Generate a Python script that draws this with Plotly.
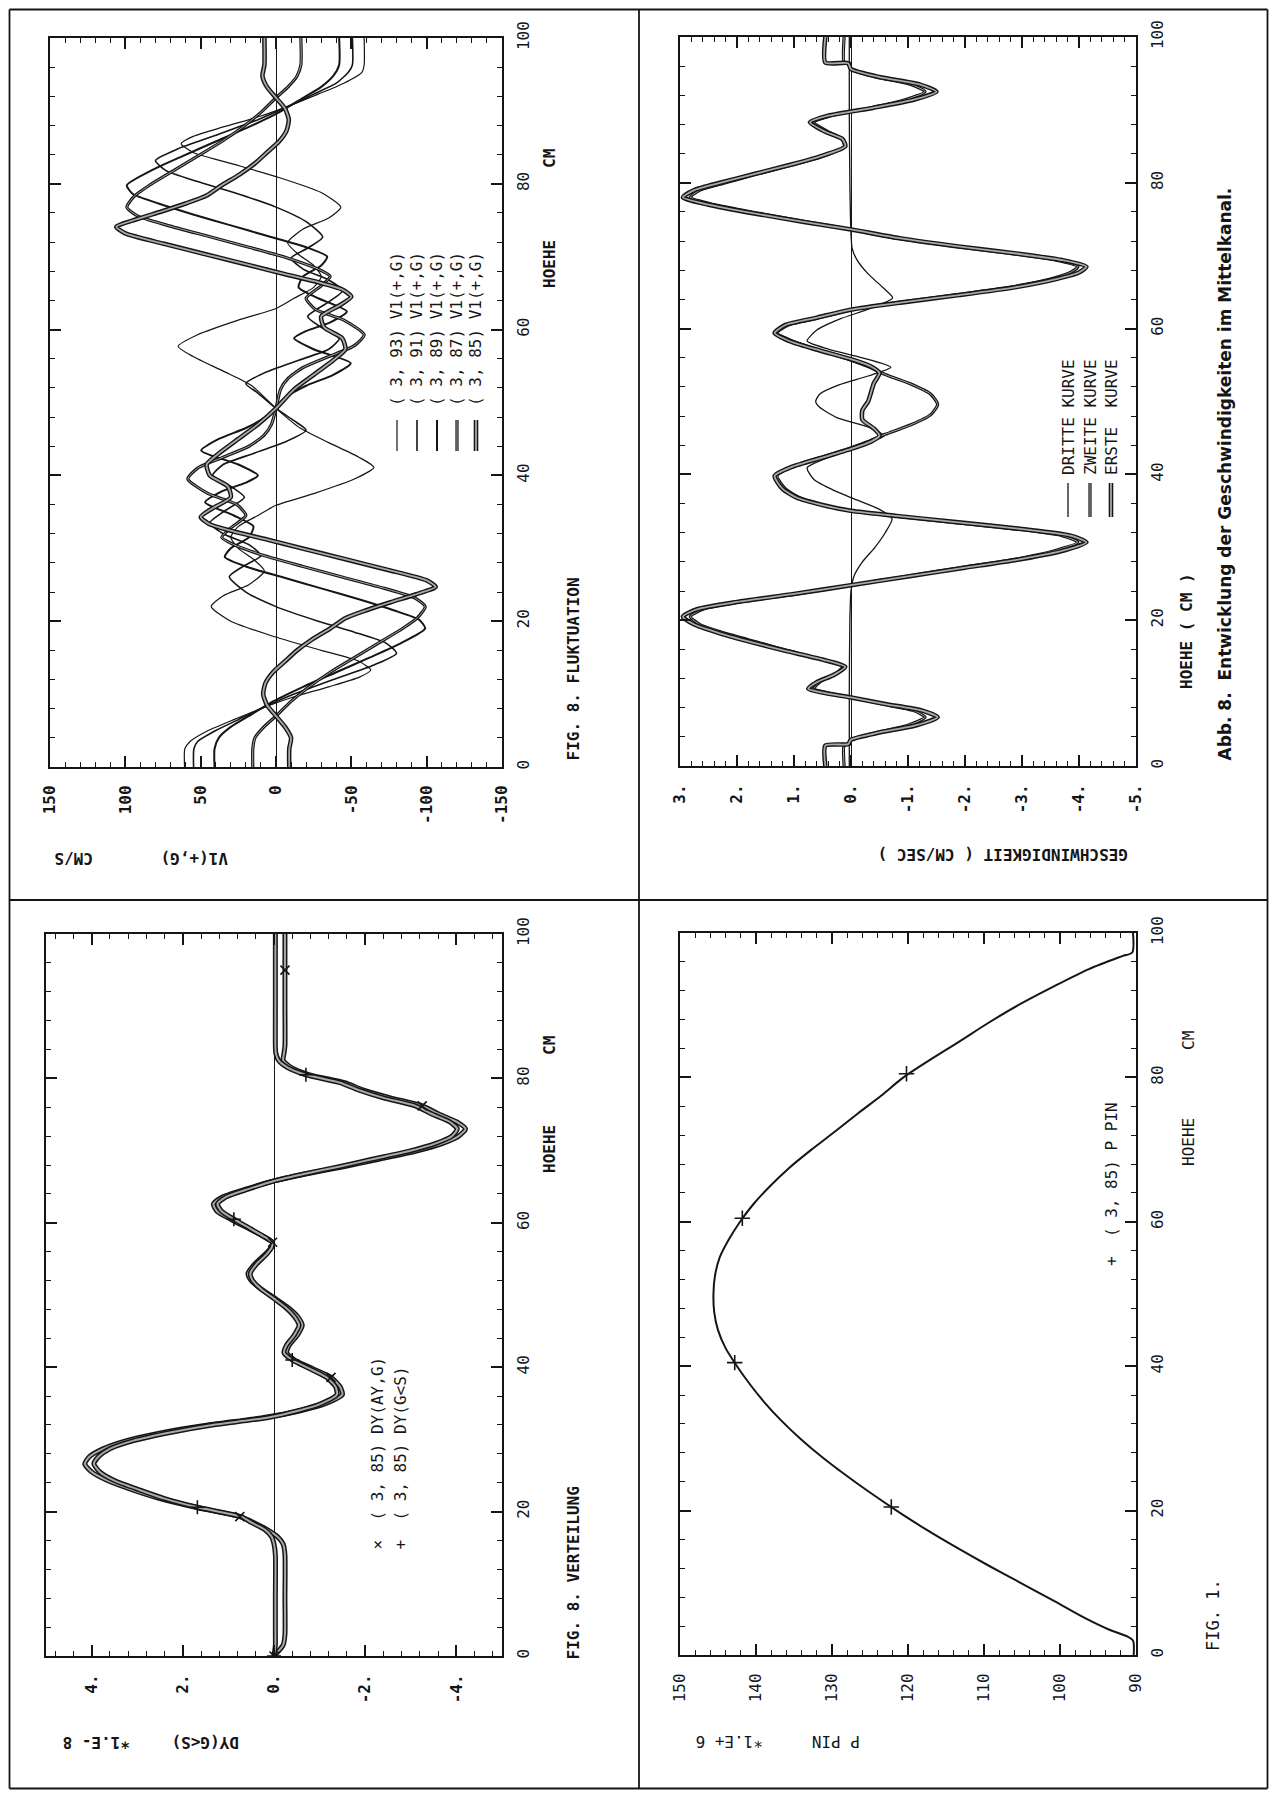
import plotly.graph_objects as go

PAGE_W, PAGE_H = 1277, 1798
OFF = 8                      # default body margin of the html page
W, H = PAGE_W - 2 * OFF, PAGE_H - 2 * OFF
INK = "#151515"
GRAY = "#a8a8a8"
MONO = "DejaVu Sans Mono"
SANS = "DejaVu Sans"

# ======================= DATA =======================
# ---- Panel 1: V1(+,G)  CM/S  vs HOEHE ----
v1_ticks = [150, 100, 50, 0, -50, -100, -150]
v1_ticktext = ["150", "100", "50", "0", "-50", "-100", "-150"]

v1_h_93 = [0, 2.5, 3.5, 5, 6.5, 8, 9.5, 11, 12.3, 13.3, 14.5, 16, 18, 20, 22, 23.5, 25, 26.9, 28.5, 30,
           31.5, 33, 34.5, 35.9, 37.5, 39.5, 41.1, 42.5, 44.5, 46.5, 49.2,
           52.3, 54.3, 56.3, 57.7, 59.3, 61.3, 62.9, 64.3, 65.8, 67.3, 68.8, 70.3, 71.9, 73.8, 75.3,
           76.8, 78.8, 80.8, 82.8, 84.3, 85.5, 86.5, 87.8, 89.3, 90.8, 92.3, 93.8, 95.3, 96.3, 100]
v1_v_93 = [60.7, 60.5, 57, 45, 28, 10, -10, -35, -55, -63, -55, -30, 3, 30, 43, 35, 18, 7.7, 15, 25,
           30, 25, 12, 0, -25, -52, -65, -55, -35, -16, 0,
           16, 35, 55, 65, 52, 25, 0, -12, -25, -30, -25, -15, -7.7, -18, -35,
           -43, -30, -3, 30, 55, 63, 55, 35, 10, -10, -28, -45, -57, -58.5, -58.5]

v1_h_91 = [0, 2.5, 3.5, 5, 6.5, 8, 10, 12, 14, 15.6, 17, 18.5, 20, 22, 24, 26.1, 27.5, 29, 30.5, 32,
           33.5, 35, 37, 38.5, 40, 41.5, 43, 44.5, 46.2, 47.5, 49.2,
           51.3, 52.6, 54.3, 55.8, 57.3, 58.8, 60.3, 61.8, 63.8, 65.3, 66.8, 68.3, 69.8, 71.3, 72.7,
           74.8, 76.8, 78.8, 80.3, 81.8, 83.2, 84.8, 86.8, 88.8, 90.8, 92.3, 93.8, 95.3, 96.3, 100]
v1_v_91 = [54.7, 54.5, 52, 40, 25, 10, -12, -38, -65, -80, -73, -52, -28, 0, 20, 31, 22, 10, 18, 35,
           44, 35, 21, 30, 42, 35, 15, -5, -20, -12, 0,
           12, 20, 5, -15, -35, -42, -30, -21, -35, -44, -35, -18, -10, -22, -31,
           -20, 0, 28, 52, 73, 80, 65, 38, 12, -10, -25, -40, -48, -50.7, -50.7]

v1_h_89 = [0, 2.5, 4, 5.5, 7, 9, 11, 13, 15, 17, 19, 20.2, 21.5, 23, 24.5, 26, 27.5, 28.8, 30, 31.5,
           33, 34.5, 36.3, 37.8, 39, 40, 41.5, 43.4, 45, 46.5, 48, 49.2,
           50.8, 52.3, 53.8, 55.4, 57.3, 58.8, 59.8, 61.0, 62.5, 64.3, 65.8, 67.3, 68.8, 70.0, 71.3,
           72.8, 74.3, 75.8, 77.3, 78.6, 79.8, 81.8, 83.8, 85.8, 87.8, 89.8, 91.8, 93.3, 94.8, 96.3, 100]
v1_v_89 = [40.8, 40.8, 38, 30, 18, 2, -18, -40, -62, -83, -99, -95, -78, -55, -30, -5, 20, 34, 30, 18,
           15, 28, 47, 36, 20, 12, 25, 49.6, 38, 20, 7, 0,
           -7, -20, -38, -49.6, -25, -12, -20, -36, -47, -28, -15, -18, -30, -34, -20,
           5, 30, 55, 78, 95, 99, 83, 62, 40, 18, -2, -18, -30, -38, -41.9, -41.9]

v1_h_87 = [0, 2.5, 4, 5.5, 7, 9, 11, 13, 15, 17, 19, 20.5, 22, 23.2, 24.5, 26, 27.5, 29, 30.5, 31.5,
           32.8, 34.5, 36, 37.5, 39.5, 41, 42.5, 44, 45.5, 47, 49.2,
           51.8, 53.3, 54.8, 56.3, 57.8, 59.3, 61.3, 62.8, 64.3, 66.0, 67.3, 68.3, 69.8, 71.3, 72.8,
           74.3, 75.6, 76.8, 78.3, 79.8, 81.8, 83.8, 85.8, 87.8, 89.8, 91.8, 93.3, 94.8, 96.3, 100]
v1_v_87 = [15.4, 15.4, 14, 8, 0, -10, -22, -36, -52, -68, -84, -94, -99, -92, -72, -45, -18, 8, 28, 36,
           30, 20, 26, 45, 58.5, 52, 35, 18, 8, 3, 0,
           -3, -8, -18, -35, -52, -58.5, -45, -26, -20, -30, -36, -28, -8, 18, 45,
           72, 92, 99, 94, 84, 68, 52, 36, 22, 10, 0, -8, -14, -16.5, -16.5]

v1_h_85 = [0, 2.5, 4, 5.5, 7, 8.5, 10, 11.5, 13, 14.5, 16, 17.5, 19, 20.4, 21.5, 22.6, 23.7, 24.7, 25.6, 27,
           28.5, 30, 31.2, 32.3, 33.3, 34.3, 35.5, 37, 38.5, 40, 41.5, 43, 45, 47, 49.2,
           51.8, 53.8, 55.8, 57.3, 58.8, 60.3, 61.8, 63.3, 64.5, 65.5, 66.5, 67.6, 68.8, 70.3, 71.8,
           73.2, 74.1, 75.1, 76.2, 77.3, 78.4, 79.8, 81.3, 82.8, 84.3, 85.8, 87.3, 88.8, 90.3, 91.8,
           93.3, 94.8, 96.3, 100]
v1_v_85 = [-8.8, -8.8, -10, -6, 0, 6, 8.5, 7, 2, -6, -14, -24, -36, -46, -60, -76, -93, -106, -100, -75,
           -46, -17, 6, 28, 44, 50, 42, 30, 32, 44, 46, 38, 25, 12, 0,
           -12, -25, -38, -46, -44, -32, -30, -42, -50, -44, -28, -6, 17, 46, 75,
           100, 106, 93, 76, 60, 46, 36, 24, 14, 6, -2, -7, -8.5, -6, 0,
           6, 9, 7.7, 7.7]

# ---- Panel 2: DY(G<S) *1.E-8 vs HOEHE ----
dy_ticks = [4, 2, 0, -2, -4]
dy_ticktext = ["4.", "2.", "0.", "-2.", "-4."]
dy_h = [0, 1.5, 3, 8, 14, 15.5, 16.5, 17.5, 18.5, 19.3,
        20.6, 21.8, 23.0, 24.3, 25.5, 26.6, 27.6, 28.7, 29.8, 31.0,
        32.0, 33.0, 34.0, 35.0, 36.2, 37.3, 38.6, 39.8, 41.0, 42.0,
        43.0, 44.5, 45.8, 47.0, 48.3, 49.5, 50.8, 52.0, 53.0, 54.3,
        55.6, 56.6, 57.3, 58.2, 59.3, 60.5, 61.6, 62.6, 63.6, 64.7,
        65.8, 66.8, 67.8, 68.8, 69.9, 71.0, 72.0, 73.0, 74.0, 75.1,
        76.2, 77.3, 78.4, 79.4, 80.5, 81.5, 82.5, 83.5, 84.5, 90,
        95, 100]
dy_ay_g = [0, -0.2, -0.24, -0.24, -0.24, -0.2, -0.08, 0.15, 0.45, 0.75,
           1.72, 2.5, 3.1, 3.65, 4.0, 4.15, 4.05, 3.75, 3.25, 2.4,
           1.45, 0.25, -0.6, -1.15, -1.5, -1.45, -1.25, -0.85, -0.45, -0.28,
           -0.33, -0.52, -0.62, -0.52, -0.3, -0.03, 0.28, 0.5, 0.57, 0.42,
           0.2, 0.06, 0.03, 0.25, 0.58, 0.95, 1.25, 1.33, 1.12, 0.6,
           0.0, -0.72, -1.55, -2.3, -3.1, -3.7, -4.05, -4.2, -4.0, -3.6,
           -3.25, -2.55, -1.95, -1.55, -0.78, -0.38, -0.2, -0.22, -0.24, -0.24,
           -0.24, -0.24]
dy_g_s = [0, -0.03, -0.03, -0.03, -0.03, 0.0, 0.05, 0.2, 0.5, 0.72,
          1.68, 2.4, 2.95, 3.5, 3.82, 3.95, 3.85, 3.6, 3.1, 2.25,
          1.35, 0.15, -0.55, -1.05, -1.38, -1.35, -1.15, -0.78, -0.4, -0.22,
          -0.27, -0.45, -0.55, -0.45, -0.25, 0.0, 0.28, 0.47, 0.52, 0.38,
          0.17, 0.05, 0.04, 0.25, 0.55, 0.88, 1.15, 1.24, 1.05, 0.55,
          0.0, -0.68, -1.45, -2.15, -2.95, -3.55, -3.9, -4.02, -3.85, -3.45,
          -3.1, -2.4, -1.85, -1.45, -0.7, -0.3, -0.1, -0.04, -0.03, -0.03,
          -0.03, -0.03]
dy_x_mark_h = [0, 19.3, 38.6, 57.3, 76.2, 95]
dy_x_mark_v = [0, 0.75, -1.25, 0.03, -3.25, -0.24]
dy_p_mark_h = [0, 20.6, 41.0, 60.5, 80.5]
dy_p_mark_v = [0, 1.68, -0.4, 0.88, -0.7]

# ---- Panel 3: GESCHWINDIGKEIT (CM/SEC) vs HOEHE ----
gs_ticks = [3, 2, 1, 0, -1, -2, -3, -4, -5]
gs_ticktext = ["3.", "2.", "1.", "0.", "-1.", "-2.", "-3.", "-4.", "-5."]
gs_h_erste = [0, 2.8, 3.0, 3.6, 4.6, 5.6, 6.7, 7.6, 8.5, 9.4,
              10.0, 10.6, 11.5, 12.5, 13.6, 14.6, 15.8, 17.0, 18.2, 19.4,
              20.5, 21.5, 22.5, 23.6, 24.8, 26.0, 27.2, 28.4, 29.6, 30.7,
              31.6, 32.5, 33.5, 34.3, 35.0, 35.8, 36.8, 38.0, 39.8, 41.0,
              42.3, 43.5, 44.5, 45.3, 46.3, 47.5, 48.8, 50.0, 51.2, 52.5,
              53.9, 54.8, 55.8, 57.0, 58.2, 59.4, 60.5, 61.5, 62.6, 63.6,
              64.6, 65.7, 66.8, 67.7, 68.5, 69.4, 70.3, 71.3, 72.4, 73.6,
              74.6, 75.8, 77.0, 78.0, 79.0, 80.0, 81.2, 82.4, 83.6, 85.0,
              86.0, 87.0, 88.3, 89.2, 90.3, 91.4, 92.5, 93.5, 94.5, 95.6,
              96.4, 96.5, 100]
gs_v_erste = [0.45, 0.45, 0.05, 0.0, -0.5, -1.15, -1.52, -1.25, -0.6, 0.0,
              0.45, 0.75, 0.6, 0.3, 0.1, 0.5, 1.15, 1.75, 2.3, 2.75,
              2.95, 2.7, 2.0, 1.0, 0.0, -1.0, -2.0, -3.0, -3.75, -4.13,
              -3.85, -3.0, -1.8, -0.8, 0.0, 0.5, 0.95, 1.2, 1.34, 1.05,
              0.5, 0.0, -0.35, -0.5, -0.4, -0.2, -0.2, -0.3, -0.35, -0.4,
              -0.5, -0.35, 0.0, 0.55, 1.05, 1.34, 1.15, 0.6, 0.0, -0.9,
              -1.9, -2.9, -3.6, -4.0, -4.13, -3.7, -2.9, -1.85, -0.85, 0.0,
              0.8, 1.7, 2.5, 2.95, 2.75, 2.3, 1.7, 1.1, 0.55, 0.1,
              0.15, 0.45, 0.72, 0.4, -0.4, -1.1, -1.5, -1.2, -0.5, 0.0,
              0.05, 0.45, 0.45]
gs_h_zweite = [0, 2.8, 3.0, 3.6, 4.6, 5.6, 6.7, 7.6, 8.5, 9.4,
               10.0, 10.6, 11.5, 12.5, 13.6, 14.6, 15.8, 17.0, 18.2, 19.4,
               20.5, 21.5, 22.5, 23.6, 24.8, 26.0, 27.2, 28.4, 29.6, 30.7,
               31.6, 32.5, 33.5, 34.3, 35.0, 35.8, 36.8, 38.0, 39.8, 41.0,
               42.3, 43.5, 44.5, 45.5, 46.8, 48.2, 49.6, 51.0, 52.4, 53.7,
               54.8, 55.8, 57.0, 58.2, 59.4, 60.5, 61.5, 62.6, 63.6, 64.6,
               65.7, 66.8, 67.7, 68.5, 69.4, 70.3, 71.3, 72.4, 73.6, 74.6,
               75.8, 77.0, 78.0, 79.0, 80.0, 81.2, 82.4, 83.6, 85.0, 86.0,
               87.0, 88.3, 89.2, 90.3, 91.4, 92.5, 93.5, 94.5, 95.6, 96.4,
               96.5, 100]
gs_v_zweite = [0.12, 0.12, 0.02, 0.0, -0.45, -1.0, -1.3, -1.1, -0.55, 0.0,
               0.4, 0.65, 0.55, 0.3, 0.15, 0.5, 1.1, 1.65, 2.2, 2.65,
               2.82, 2.6, 1.95, 0.95, 0.0, -0.95, -1.9, -2.9, -3.6, -3.98,
               -3.7, -2.9, -1.7, -0.75, 0.0, 0.5, 0.9, 1.15, 1.3, 1.05,
               0.55, 0.05, -0.3, -0.6, -1.05, -1.4, -1.52, -1.4, -1.05, -0.6,
               -0.3, 0.05, 0.55, 1.0, 1.3, 1.1, 0.55, 0.0, -0.85, -1.8,
               -2.8, -3.5, -3.85, -3.98, -3.6, -2.8, -1.8, -0.8, 0.0, 0.75,
               1.6, 2.4, 2.82, 2.65, 2.2, 1.65, 1.05, 0.5, 0.12, 0.15,
               0.4, 0.65, 0.35, -0.35, -0.95, -1.3, -1.05, -0.45, 0.0, 0.02,
               0.12, 0.12]
gs_h_dritte = [0, 10, 20, 24, 26, 28, 30, 32, 33.9, 35.2,
               36.5, 37.8, 39.3, 40.9, 42.3, 43.8, 45.3, 46.5, 47.8, 49.2,
               50.0, 51.0, 52.3, 53.5, 54.7, 56.0, 57.2, 58.3, 59.8, 61.3,
               62.8, 64.2, 65.7, 67.5, 69.5, 71, 73, 80, 90, 100]
gs_v_dritte = [0.03, 0.03, 0.02, 0.0, -0.05, -0.2, -0.42, -0.6, -0.72, -0.5,
               -0.1, 0.3, 0.65, 0.77, 0.4, -0.15, -0.58, -0.3, 0.25, 0.55,
               0.62, 0.55, 0.2, -0.3, -0.7, -0.2, 0.4, 0.77, 0.6, 0.2,
               -0.35, -0.73, -0.55, -0.3, -0.1, -0.02, 0.0, 0.02, 0.03, 0.03]

# ---- Panel 4: P PIN *1.E+6 vs HOEHE ----
pp_ticks = [150, 140, 130, 120, 110, 100, 90]
pp_ticktext = ["150", "140", "130", "120", "110", "100", "90"]
pp_h = [0, 2.0, 2.6, 3.5, 5, 7.5, 10, 12.5, 15, 17.5,
        20, 22.5, 25, 27.5, 30, 32.5, 35, 37.5, 40, 42.5,
        45, 47.5, 50, 52.5, 55, 57.5, 60, 62.5, 65, 67.5,
        70, 72.5, 75, 77.5, 80, 82.5, 85, 87.5, 90, 92.5,
        95, 96.8, 97.3, 100]
pp_v = [90.3, 90.4, 91.2, 93.5, 96.5, 100.8, 105.2, 109.6, 113.8, 117.8,
        121.5, 125.0, 128.3, 131.4, 134.2, 136.7, 138.9, 140.8, 142.5, 144.0,
        145.0, 145.5, 145.6, 145.4, 144.8, 143.6, 142.1, 140.3, 138.1, 135.6,
        132.7, 129.6, 126.6, 123.5, 120.6, 117.0, 113.2, 109.5, 105.5, 101.0,
        96.2, 91.8, 90.5, 90.4]
pp_mark_h = [20.5, 40.5, 60.5, 80.5]
pp_mark_v = [122.2, 142.8, 141.8, 120.2]

h_ticks = [0, 20, 40, 60, 80, 100]
h_ticktext = ["0", "20", "40", "60", "80", "100"]

# ======================= FIGURE =======================
# panel boxes in page pixels (left, top, right, bottom)
BOX = {1: (50, 38, 502, 767), 2: (46, 934, 502, 1656),
       3: (680, 37, 1136, 766), 4: (680, 933, 1136, 1655)}


def px(X):
    return (X - OFF) / W


def py(Y):
    return 1 - (Y - OFF) / H


def xdom(i):
    b = BOX[i]
    return [px(b[0]), px(b[2])]


def ydom(i):
    b = BOX[i]
    return [py(b[3]), py(b[1])]


TICKFONT = dict(family=MONO, size=16, color=INK)


def val_axis(i, rng, tv, tt, minor_dt, zl=True, bold=True):
    labels = [f"<b>{t}</b>" for t in tt] if bold else list(tt)
    return dict(domain=xdom(i), range=rng, anchor="y" if i == 1 else f"y{i}", side="bottom",
                showline=True, linecolor=INK, linewidth=2, mirror="ticks",
                ticks="inside", ticklen=11, tickwidth=1.6, tickcolor=INK,
                tickmode="array", tickvals=tv, ticktext=labels,
                tickangle=-90, tickfont=TICKFONT, automargin=False,
                ticklabelstandoff=10, showgrid=False,
                zeroline=zl, zerolinecolor=INK, zerolinewidth=1.3,
                minor=dict(ticks="inside", ticklen=5, tickwidth=1.3, tickcolor=INK,
                           tick0=0, dtick=minor_dt, showgrid=False),
                fixedrange=True)


def h_axis(i):
    return dict(domain=ydom(i), range=[0, 100], anchor="x" if i == 1 else f"x{i}", side="right",
                showline=True, linecolor=INK, linewidth=2, mirror="ticks",
                ticks="inside", ticklen=11, tickwidth=1.6, tickcolor=INK,
                tickmode="array", tickvals=h_ticks, ticktext=h_ticktext, tickangle=-90,
                tickfont=TICKFONT, ticklabelstandoff=6, showgrid=False, zeroline=False,
                automargin=False,
                minor=dict(ticks="inside", ticklen=5, tickwidth=1.3, tickcolor=INK,
                           tick0=0, dtick=4, showgrid=False),
                fixedrange=True)


fig = go.Figure()


def ax(i):
    return ("x" if i == 1 else f"x{i}", "y" if i == 1 else f"y{i}")


def line(i, v, h, width, color=INK, smooth=0.6):
    xa, ya = ax(i)
    fig.add_trace(go.Scatter(x=v, y=h, mode="lines", xaxis=xa, yaxis=ya, hoverinfo="skip",
                             line=dict(color=color, width=width, shape="spline", smoothing=smooth)))


def band(i, v, h, outer=5, inner=2, smooth=0.6):
    line(i, v, h, outer, INK, smooth)
    line(i, v, h, inner, GRAY, smooth)


def marks(i, v, h, symbol, size=9):
    xa, ya = ax(i)
    fig.add_trace(go.Scatter(x=v, y=h, mode="markers", xaxis=xa, yaxis=ya, hoverinfo="skip",
                             marker=dict(symbol=symbol, size=size, color=INK,
                                         line=dict(color=INK, width=1.6))))


# panel 1
line(1, v1_v_93, v1_h_93, 1.2)
line(1, v1_v_91, v1_h_91, 1.6)
line(1, v1_v_89, v1_h_89, 2.0)
band(1, v1_v_87, v1_h_87, 3.2, 1.0)
band(1, v1_v_85, v1_h_85, 4.6, 1.8)

# panel 2
band(2, dy_ay_g, dy_h, 5, 2)
band(2, dy_g_s, dy_h, 5, 2)
marks(2, dy_x_mark_v, dy_x_mark_h, "x-thin", 9)
marks(2, dy_p_mark_v, dy_p_mark_h, "cross-thin", 10)

# panel 3
line(3, gs_v_dritte, gs_h_dritte, 1.3)
band(3, gs_v_zweite, gs_h_zweite, 3.2, 1.0)
band(3, gs_v_erste, gs_h_erste, 4.6, 1.8)

# panel 4
line(4, pp_v, pp_h, 2.0, smooth=0.8)
marks(4, pp_mark_v, pp_mark_h, "cross-thin", 11)

layout = dict(width=W, height=H, margin=dict(l=0, r=0, t=0, b=0, autoexpand=False),
              paper_bgcolor="white", plot_bgcolor="white", showlegend=False,
              xaxis=val_axis(1, [150, -150], v1_ticks, v1_ticktext, 10),
              yaxis=h_axis(1),
              xaxis2=val_axis(2, [5, -5], dy_ticks, dy_ticktext, 0.4),
              yaxis2=h_axis(2),
              xaxis3=val_axis(3, [3, -5], gs_ticks, gs_ticktext, 0.2),
              yaxis3=h_axis(3),
              xaxis4=val_axis(4, [150, 90], pp_ticks, pp_ticktext, 2, zl=False, bold=False),
              yaxis4=h_axis(4))
fig.update_layout(**layout)

# ---------------- texts ----------------
ann = []


def txt(s, x, y, angle=-90, size=16, xa="center", ya="middle", family=MONO, bold=False):
    if bold:
        s = f"<b>{s}</b>"
    ann.append(dict(text=s, x=px(x), y=py(y), xref="paper", yref="paper", textangle=angle,
                    showarrow=False, font=dict(family=family, size=size, color=INK),
                    xanchor=xa, yanchor=ya))


# value-axis titles (upside down)
txt("V1(+,G)", 195, 858, angle=180, bold=True)
txt("CM/S", 74, 858, angle=180, bold=True)
txt("DY(G&lt;S)", 206, 1743, angle=180, bold=True)
txt("*1.E- 8", 97, 1743, angle=180, bold=True)
txt("GESCHWINDIGKEIT ( CM/SEC )", 1003, 855, angle=180, bold=True)
txt("P PIN", 836, 1742, angle=180)
txt("*1.E+ 6", 730, 1742, angle=180)

# height-axis titles
txt("HOEHE", 549, 264, bold=True)
txt("CM", 549, 159, bold=True)
txt("HOEHE", 549, 1149, bold=True)
txt("CM", 549, 1046, bold=True)
txt("HOEHE ( CM )", 1186, 631, bold=True)
txt("HOEHE", 1188, 1142)
txt("CM", 1188, 1041)

# figure captions
txt("FIG. 8. FLUKTUATION", 573, 763, ya="bottom", bold=True)
txt("FIG. 8. VERTEILUNG", 573, 1662, ya="bottom", bold=True)
txt("FIG. 1.", 1213, 1653, ya="bottom", size=17)
txt("Abb. 8.  Entwicklung der Geschwindigkeiten im Mittelkanal.", 1224, 763, ya="bottom",
    family=SANS, size=17, bold=True)

# legends
v1_leg = ["( 3, 93) V1(+,G)", "( 3, 91) V1(+,G)", "( 3, 89) V1(+,G)",
          "( 3, 87) V1(+,G)", "( 3, 85) V1(+,G)"]
v1_leg_x = [397, 417, 437, 457, 476]
for s, xx in zip(v1_leg, v1_leg_x):
    txt(s, xx, 408, ya="bottom")

txt("×  ( 3, 85) DY(AY,G)", 377, 1552, ya="bottom")
txt("+  ( 3, 85) DY(G&lt;S)", 400, 1552, ya="bottom")
txt("+  ( 3, 85) P PIN", 1111, 1268, ya="bottom")

gs_leg = ["DRITTE KURVE", "ZWEITE KURVE", "ERSTE  KURVE"]
gs_leg_x = [1068, 1090, 1111]
for s, xx in zip(gs_leg, gs_leg_x):
    txt(s, xx, 477, ya="bottom")

fig.update_layout(annotations=ann)

# ---------------- shapes: page frame + legend samples ----------------
shapes = []


def seg(x0, y0, x1, y1, w=1.6, c=INK):
    shapes.append(dict(type="line", xref="paper", yref="paper", x0=px(x0), y0=py(y0),
                       x1=px(x1), y1=py(y1), line=dict(color=c, width=w)))


FL, FT, FR, FB = 9.5, 9.5, 1267.5, 1788.5
seg(FL, FT, FR, FT, 1.8)
seg(FL, FB, FR, FB, 1.8)
seg(FL, FT, FL, FB, 1.8)
seg(FR, FT, FR, FB, 1.8)
seg(639, FT, 639, FB, 1.8)
seg(FL, 900, FR, 900, 1.8)

v1_leg_w = [1.2, 1.6, 2.0, 3.2, 4.6]
for xx, w in zip(v1_leg_x, v1_leg_w):
    seg(xx, 420, xx, 451, w)
seg(v1_leg_x[3], 420, v1_leg_x[3], 451, 1.0, GRAY)
seg(v1_leg_x[4], 420, v1_leg_x[4], 451, 1.8, GRAY)

gs_leg_w = [1.3, 3.2, 4.6]
for xx, w in zip(gs_leg_x, gs_leg_w):
    seg(xx, 483, xx, 517, w)
seg(gs_leg_x[1], 483, gs_leg_x[1], 517, 1.0, GRAY)
seg(gs_leg_x[2], 483, gs_leg_x[2], 517, 1.8, GRAY)

fig.update_layout(shapes=shapes)

fig.write_html("out.html")
